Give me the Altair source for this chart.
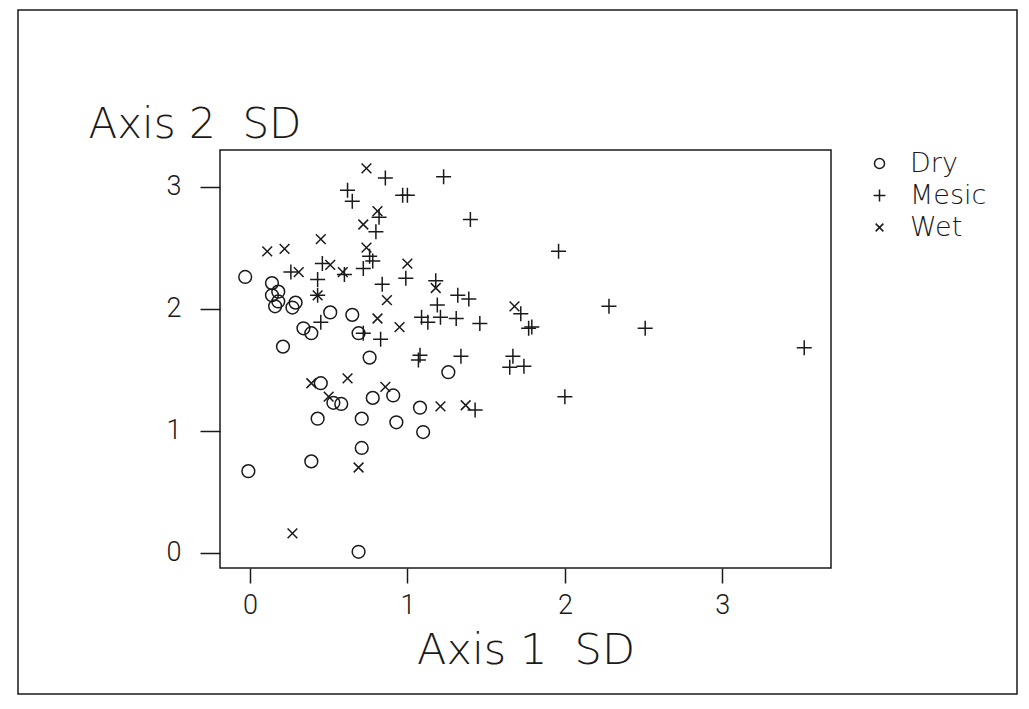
import altair as alt
import pandas as pd

categories = ["Dry", "Mesic", "Wet"]

dry_x = [-0.03, 0.14, 0.18, 0.14, 0.18, 0.16, 0.29, 0.27, 0.51, 0.34, 0.39, 0.65, 0.69, 0.21, 0.76,
         0.45, 0.53, 0.58, 0.91, 0.78, 1.08, 0.43, 0.71, 0.93, 1.10, 0.71, 0.39, -0.01, 0.69, 1.26]
dry_y = [2.26, 2.21, 2.14, 2.11, 2.06, 2.02, 2.05, 2.01, 1.97, 1.84, 1.80, 1.95, 1.80, 1.69, 1.60,
         1.39, 1.23, 1.22, 1.29, 1.27, 1.19, 1.10, 1.10, 1.07, 0.99, 0.86, 0.75, 0.67, 0.01, 1.48]

mesic_x = [0.86, 0.62, 0.65, 0.97, 1.00, 0.82, 0.80, 0.76, 0.78, 0.99, 0.26, 0.46, 0.60, 0.72, 0.43,
           0.84, 0.43, 0.45, 0.72, 0.83, 1.09, 1.07, 1.08, 1.23, 1.40, 1.96, 1.18, 1.32, 1.39, 1.19,
           1.13, 1.21, 1.31, 1.46, 1.72, 1.77, 1.79, 2.28, 1.34, 1.67, 1.65, 1.74, 2.00, 1.43, 2.51, 3.52]
mesic_y = [3.07, 2.97, 2.88, 2.93, 2.93, 2.75, 2.63, 2.43, 2.39, 2.25, 2.30, 2.37, 2.28, 2.33, 2.24,
           2.20, 2.11, 1.89, 1.80, 1.75, 1.93, 1.58, 1.62, 3.08, 2.73, 2.47, 2.23, 2.11, 2.08, 2.03,
           1.89, 1.93, 1.92, 1.88, 1.96, 1.84, 1.85, 2.02, 1.61, 1.61, 1.52, 1.53, 1.28, 1.17, 1.84, 1.68]

wet_x = [0.74, 0.81, 0.72, 0.45, 0.11, 0.22, 0.74, 1.00, 0.31, 0.51, 0.59, 0.43, 0.87, 0.81, 0.95,
         0.39, 0.62, 0.50, 0.86, 0.69, 0.27, 1.18, 1.68, 1.21, 1.37]
wet_y = [3.15, 2.80, 2.69, 2.57, 2.47, 2.49, 2.50, 2.37, 2.30, 2.36, 2.30, 2.11, 2.07, 1.92, 1.85,
         1.39, 1.43, 1.28, 1.36, 0.70, 0.16, 2.17, 2.02, 1.20, 1.21]

tick_values = [0, 1, 2, 3]

rows = []
for name, xs, ys in [("Dry", dry_x, dry_y), ("Mesic", mesic_x, mesic_y), ("Wet", wet_x, wet_y)]:
    for a, b in zip(xs, ys):
        rows.append({"ax1": a, "ax2": b, "group": name})
df = pd.DataFrame(rows)

circle_path = "M-0.85,0A0.85,0.85 0 1,0 0.85,0A0.85,0.85 0 1,0 -0.85,0Z"
plus_path = "M-1,0L1,0M0,-1L0,1"
x_path = "M-0.65,-0.65L0.65,0.65M-0.65,0.65L0.65,-0.65"

INK = "#1a1a1a"
FONT = "DejaVu Sans"
TICKFONT = "Liberation Sans Narrow, Roboto"

points = alt.Chart(df).mark_point(
    filled=False, size=225, strokeWidth=1.5, color=INK, opacity=1
).encode(
    x=alt.X("ax1:Q",
            scale=alt.Scale(domain=[-0.19, 3.69], nice=False, zero=False),
            axis=alt.Axis(values=tick_values, format="d", grid=False, domain=False,
                          tickSize=15, tickWidth=1.5, tickColor=INK,
                          labelFont=TICKFONT, labelFontSize=27, labelColor=INK,
                          labelPadding=9, labelFontWeight=300,
                          title="Axis\u00a01\u00a0\u00a0SD", titleFont=FONT, titleFontSize=43,
                          titleFontWeight=200, titleColor=INK, titleBaseline="alphabetic",
                          titleY=95)),
    y=alt.Y("ax2:Q",
            scale=alt.Scale(domain=[-0.123, 3.30], nice=False, zero=False),
            axis=alt.Axis(values=tick_values, format="d", grid=False, domain=False,
                          tickSize=20, tickWidth=1.5, tickColor=INK,
                          labelFont=TICKFONT, labelFontSize=27, labelColor=INK,
                          labelPadding=19, labelFontWeight=300,
                          title="Axis\u00a02\u00a0\u00a0SD", titleFont=FONT, titleFontSize=42,
                          titleFontWeight=200, titleColor=INK, titleAngle=0,
                          titleAlign="left", titleBaseline="alphabetic",
                          titleX=-132, titleY=-13)),
    shape=alt.Shape("group:N",
                    scale=alt.Scale(domain=categories, range=[circle_path, plus_path, x_path]),
                    legend=alt.Legend(title=None, orient="none", legendX=646, legendY=0,
                                      symbolSize=140, symbolStrokeWidth=1.5,
                                      symbolStrokeColor=INK, symbolFillColor="transparent",
                                      labelFont=FONT, labelFontSize=27, labelFontWeight=200,
                                      labelColor=INK, labelOffset=17, rowPadding=4, padding=0)),
)

border = alt.Chart(alt.Data(values=[{"k": 1}])).mark_rect(
    fillOpacity=0, stroke=INK, strokeWidth=1.5
).encode(
    x=alt.value(-202), x2=alt.value(797),
    y=alt.value(-140), y2=alt.value(544),
)

chart = alt.layer(border, points).properties(
    width=611, height=418,
    background="white",
    autosize=alt.AutoSizeParams(type="none"),
    padding={"left": 212, "top": 142, "right": 190, "bottom": 130},
).configure_view(
    stroke=INK, strokeWidth=1.5
)

chart.save("out.html", embed_options={"renderer": "svg", "actions": False})
